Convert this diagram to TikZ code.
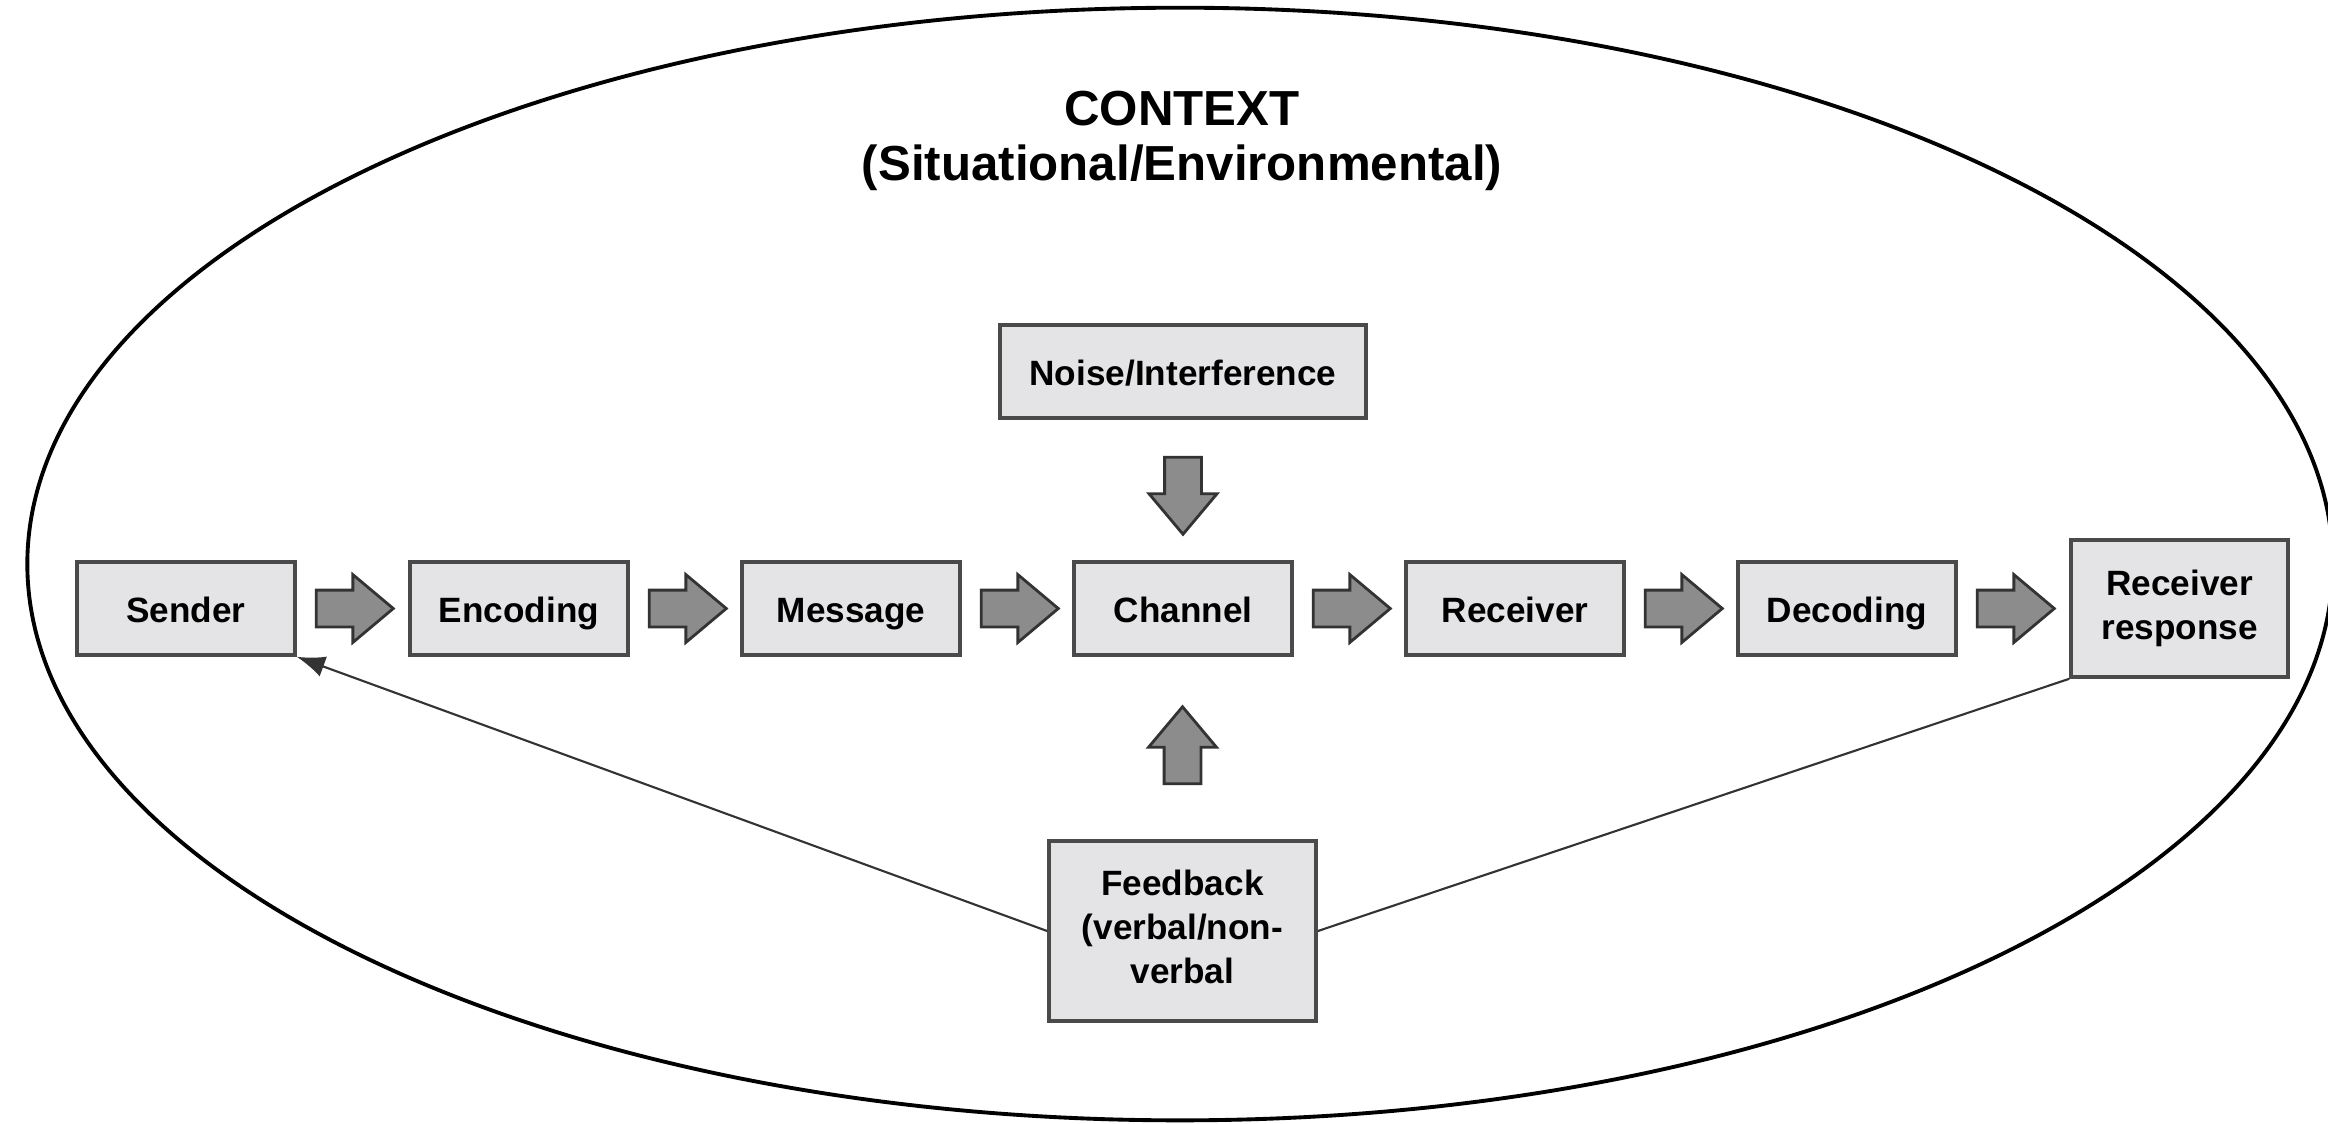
\documentclass[tikz,border=0pt]{standalone}
\usepackage{fontspec}
\setmainfont{Liberation Sans}
\usetikzlibrary{shapes.arrows,calc,arrows.meta}
\definecolor{boxfill}{HTML}{E4E4E6}
\definecolor{boxline}{HTML}{4A4A4A}
\definecolor{arrfill}{HTML}{8C8C8C}
\definecolor{arrline}{HTML}{333333}
\newcommand{\boxstrut}{\rule[-2.2pt]{0pt}{12.5pt}}
\begin{document}
\begin{tikzpicture}[x=0.01cm,y=-0.01cm,
  box/.style={draw=boxline, line width=1pt, fill=boxfill, minimum width=2.18cm,
    minimum height=0.93cm, inner sep=0pt, align=center,
    font=\fontsize{10}{12.5}\selectfont\bfseries, execute at begin node=\boxstrut},
  fat/.style={single arrow, draw=arrline, line width=0.8pt, fill=arrfill,
    minimum height=0.77cm, inner sep=0.17cm, single arrow head extend=0.155cm,
    single arrow tip angle=80, anchor=tail},
  fbline/.style={draw=arrline, line width=0.6pt}]
\useasboundingbox (0,0) rectangle (2328,1123);
\fill[white] (0,0) rectangle (2328,1123);
\draw[line width=1.1pt] (1180,564) ellipse [x radius=11.52cm, y radius=5.56cm];
\node[font=\fontsize{14}{15.5}\selectfont\bfseries, align=center] (ctx) at (1182,141)
  {CONTEXT\\(Situational/Environmental)};
\node[box] (sender)   at (186,608.5)  {Sender};
\node[box] (encoding) at (519,608.5)  {Encoding};
\node[box] (message)  at (851,608.5)  {Message};
\node[box] (channel)  at (1183,608.5) {Channel};
\node[box] (receiver) at (1515,608.5) {Receiver};
\node[box] (decoding) at (1847,608.5) {Decoding};
\node[box, minimum width=2.17cm, minimum height=1.37cm] (rr) at (2179.5,608.5) {Receiver\\response};
\node[box, minimum width=3.66cm] (noise) at (1183,371.5) {Noise/Interference};
\node[box, minimum width=2.67cm, minimum height=1.80cm] (feedback) at (1182.5,931)
  {Feedback\\(verbal/non-\\verbal};
\node[fat] (a1) at ($(sender.east)+(18,0)$) {};
\node[fat] (a2) at ($(encoding.east)+(18,0)$) {};
\node[fat] (a3) at ($(message.east)+(18,0)$) {};
\node[fat] (a4) at ($(channel.east)+(18,0)$) {};
\node[fat] (a5) at ($(receiver.east)+(18,0)$) {};
\node[fat] (a6) at ($(decoding.east)+(18,0)$) {};
\node[fat, shape border rotate=270] (ad) at ($(noise.south)+(0,36)$) {};
\node[fat, shape border rotate=90] (au) at ($(feedback.north)+(0,-54)$) {};
\draw[fbline, -{Latex[length=8pt,width=6pt]}] (feedback.west) -- (sender.south east);
\draw[fbline] (rr.south west) -- (feedback.east);
\end{tikzpicture}
\end{document}
